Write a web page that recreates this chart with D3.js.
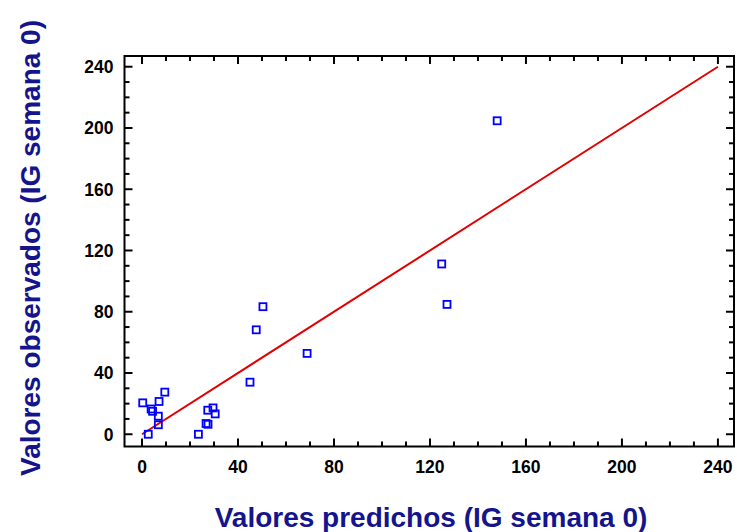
<!DOCTYPE html>
<html><head><meta charset="utf-8">
<script src="https://cdn.jsdelivr.net/npm/d3@7"></script>
<style>body{margin:0;background:#fff}svg{display:block}</style>
</head><body>
<script>
const predicted = [0.3, 9.5, 7.1, 3.8, 4.4, 6.8, 6.8, 2.6, 23.5, 26.7, 27.5, 27.4, 29.6, 30.5, 45, 47.6, 50.4, 68.8, 124.9, 127.1, 148];
const observed  = [20.5, 27.5, 21.4, 16.5, 15, 11.8, 6.2, 0, 0, 7, 6.5, 15.7, 17.2, 13.3, 34, 68.2, 83.3, 52.8, 111.2, 84.8, 204.7];
const ticks = [0, 40, 80, 120, 160, 200, 240];
const minorTicks = d3.range(0, 250, 10);
const xTitle = "Valores predichos (IG semana 0)";
const yTitle = "Valores observados (IG semana 0)";

const W = 737, H = 532;
const L = 124.5, R = 734, T = 56, B = 446.5;
const svg = d3.select("body").append("svg").attr("width", W).attr("height", H);
const x = d3.scaleLinear().domain([-7.3, 246.7]).range([L, R]);
const y = d3.scaleLinear().domain([-8, 247]).range([B, T]);

const font = "'Liberation Sans', Arial, sans-serif";

function axes(){
  const g = svg.append("g").attr("stroke", "#000").attr("stroke-width", 2);
  minorTicks.forEach(v => {
    const major = v % 40 === 0;
    const len = major ? 8 : 5;
    g.append("line").attr("x1", x(v)).attr("x2", x(v)).attr("y1", B).attr("y2", B - len);
    g.append("line").attr("x1", x(v)).attr("x2", x(v)).attr("y1", T).attr("y2", T + len);
    g.append("line").attr("y1", y(v)).attr("y2", y(v)).attr("x1", L).attr("x2", L + len);
    g.append("line").attr("y1", y(v)).attr("y2", y(v)).attr("x1", R).attr("x2", R - len);
  });
  svg.append("rect").attr("x", L).attr("y", T).attr("width", R - L).attr("height", B - T)
    .attr("fill", "none").attr("stroke", "#000").attr("stroke-width", 2);
}
axes();

svg.append("g").selectAll("text").data(ticks).join("text")
  .attr("x", d => x(d)).attr("y", 473).attr("text-anchor", "middle")
  .attr("font-family", font).attr("font-weight", "bold").attr("font-size", 17.5).text(d => d);
svg.append("g").selectAll("text").data(ticks).join("text")
  .attr("x", 113.5).attr("y", d => y(d) + 6.3).attr("text-anchor", "end")
  .attr("font-family", font).attr("font-weight", "bold").attr("font-size", 17.5).text(d => d);

svg.append("line").attr("x1", x(0)).attr("y1", y(0)).attr("x2", x(240)).attr("y2", y(240))
  .attr("stroke", "#e00000").attr("stroke-width", 2);

svg.append("g").selectAll("rect").data(predicted.map((p, i) => [p, observed[i]])).join("rect")
  .attr("x", d => x(d[0]) - 3.5).attr("y", d => y(d[1]) - 3.5)
  .attr("width", 7).attr("height", 7)
  .attr("fill", "none").attr("stroke", "#0000ff").attr("stroke-width", 1.8);

svg.append("text").attr("x", 431).attr("y", 527).attr("text-anchor", "middle")
  .attr("font-family", font).attr("font-weight", "bold").attr("font-size", 28)
  .attr("fill", "#14148c").text(xTitle);
svg.append("text").attr("transform", "translate(40,248) rotate(-90)").attr("text-anchor", "middle")
  .attr("font-family", font).attr("font-weight", "bold").attr("font-size", 28)
  .attr("fill", "#14148c").text(yTitle);
</script>
</body></html>
